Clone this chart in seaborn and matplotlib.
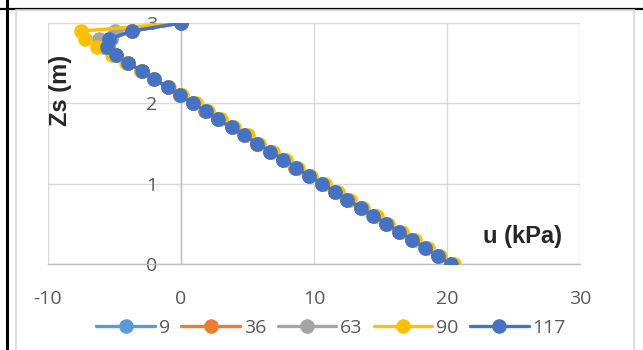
# Import Libraries
import numpy as np
import pandas as pd
import seaborn as sns
import matplotlib.pyplot as plt
from matplotlib.lines import Line2D

# Depth points (m), top to bottom
zs = [3.0, 2.9, 2.8, 2.7, 2.6, 2.5, 2.4, 2.3, 2.2, 2.1, 2.0,
      1.9, 1.8, 1.7, 1.6, 1.5, 1.4, 1.3, 1.2, 1.1, 1.0,
      0.9, 0.8, 0.7, 0.6, 0.5, 0.4, 0.3, 0.2, 0.1, 0.0]

# Pore pressure u (kPa) for each time step
u_9 = [0.0, -3.7, -5.3, -5.5, -4.9, -4.0, -2.9, -2.0, -1.0, -0.1, 0.9,
       1.8, 2.8, 3.8, 4.8, 5.7, 6.7, 7.7, 8.6, 9.6, 10.6,
       11.6, 12.5, 13.5, 14.5, 15.4, 16.4, 17.4, 18.4, 19.3, 20.3]
u_36 = [0.0, -3.7, -5.4, -5.6, -4.9, -4.0, -2.9, -2.0, -1.0, -0.1, 0.9,
        1.8, 2.8, 3.8, 4.8, 5.7, 6.7, 7.7, 8.6, 9.6, 10.6,
        11.6, 12.5, 13.5, 14.5, 15.4, 16.4, 17.4, 18.4, 19.3, 20.3]
u_63 = [0.0, -5.0, -6.2, -5.9, -5.0, -4.0, -3.0, -2.0, -1.0, -0.1, 0.9,
        1.9, 2.9, 3.9, 4.9, 5.8, 6.8, 7.8, 8.7, 9.7, 10.7,
        11.7, 12.6, 13.6, 14.6, 15.5, 16.5, 17.5, 18.5, 19.4, 20.4]
u_90 = [0.0, -7.5, -7.2, -6.3, -5.2, -4.1, -3.0, -2.0, -0.9, 0.1, 1.1,
        2.0, 3.0, 4.0, 5.0, 5.9, 6.9, 7.9, 8.8, 9.8, 10.8,
        11.8, 12.7, 13.7, 14.7, 15.6, 16.6, 17.6, 18.6, 19.5, 20.5]
u_117 = [0.0, -3.7, -5.4, -5.6, -4.9, -4.0, -2.9, -2.0, -1.0, -0.1, 0.9,
         1.85, 2.8, 3.8, 4.75, 5.75, 6.7, 7.7, 8.65, 9.6, 10.6,
         11.55, 12.5, 13.5, 14.45, 15.45, 16.4, 17.4, 18.35, 19.3, 20.3]

series_names = ["9", "36", "63", "90", "117"]
series_values = [u_9, u_36, u_63, u_90, u_117]
colors = ["#5B9BD5", "#ED7D31", "#A5A5A5", "#FFC000", "#4472C4"]

# Long-form table
data = pd.concat([pd.DataFrame({"u": vals, "z": zs, "series": name})
                  for name, vals in zip(series_names, series_values)],
                 ignore_index=True)

sns.set_style("white")
plt.rcParams['font.family'] = ['Open Sans', 'DejaVu Sans']
plt.rcParams['axes.unicode_minus'] = False

fig = plt.figure(figsize=(6.43, 3.5), dpi=100)
ax = fig.add_axes([48 / 643, 1 - 264 / 350, 532 / 643, 241 / 350])

sns.lineplot(data=data, x="u", y="z", hue="series", hue_order=series_names,
             palette=colors, sort=False, estimator=None, marker="o",
             markersize=10.5, markeredgewidth=0, linewidth=2.4, ax=ax, zorder=3)

ax.set_xlim(-10, 30)
ax.set_ylim(0, 3)
ax.set_xticks([-10, 0, 10, 20, 30])
ax.set_yticks([0, 1, 2, 3])
ax.grid(True, color="#D9D9D9", linewidth=1.0)
ax.set_axisbelow(True)

for side in ["top", "right"]:
    ax.spines[side].set_visible(False)
ax.spines["left"].set_position(("data", 0))
ax.spines["left"].set_color("#BFBFBF")
ax.spines["bottom"].set_color("#BFBFBF")
ax.spines["left"].set_linewidth(1.0)
ax.spines["bottom"].set_linewidth(1.0)

ax.tick_params(axis="y", length=0, pad=17, labelsize=14, labelcolor="#595959")
ax.tick_params(axis="x", length=0, pad=19, labelsize=14, labelcolor="#595959")

# Axis titles inside the plot area like the original
ax.set_xlabel("u (kPa)", fontsize=17, fontweight="bold", family="Liberation Sans")
ax.xaxis.set_label_coords(0.891, 0.16)
ax.set_ylabel("Zs (m)", fontsize=17, fontweight="bold", family="Liberation Sans")
ax.yaxis.set_label_coords(0.045, 0.72)

# Legend at the bottom
handles, labels = ax.get_legend_handles_labels()
ax.get_legend().remove()
leg = fig.legend(handles, labels, loc="center", bbox_to_anchor=(0.515, 1 - 328 / 350),
                 ncol=5, frameon=False, fontsize=14, handlelength=3.0,
                 handletextpad=0.2, columnspacing=0.6, labelcolor="#595959")

# Page border lines around the chart
fig.add_artist(Line2D([0, 1], [1 - 8.5 / 350, 1 - 8.5 / 350], color="black", linewidth=1.6))
fig.add_artist(Line2D([6.5 / 643, 6.5 / 643], [0, 1], color="black", linewidth=2.2))
fig.add_artist(Line2D([16 / 643, 16 / 643], [0, 1 - 10 / 350], color="#D9D9D9", linewidth=1.2))
fig.add_artist(Line2D([634 / 643, 634 / 643], [0, 1 - 10 / 350], color="#D9D9D9", linewidth=1.2))
fig.add_artist(Line2D([16 / 643, 634 / 643], [1 - 10 / 350, 1 - 10 / 350], color="#D9D9D9", linewidth=1.2))

fig.savefig("out.png", dpi=100)
